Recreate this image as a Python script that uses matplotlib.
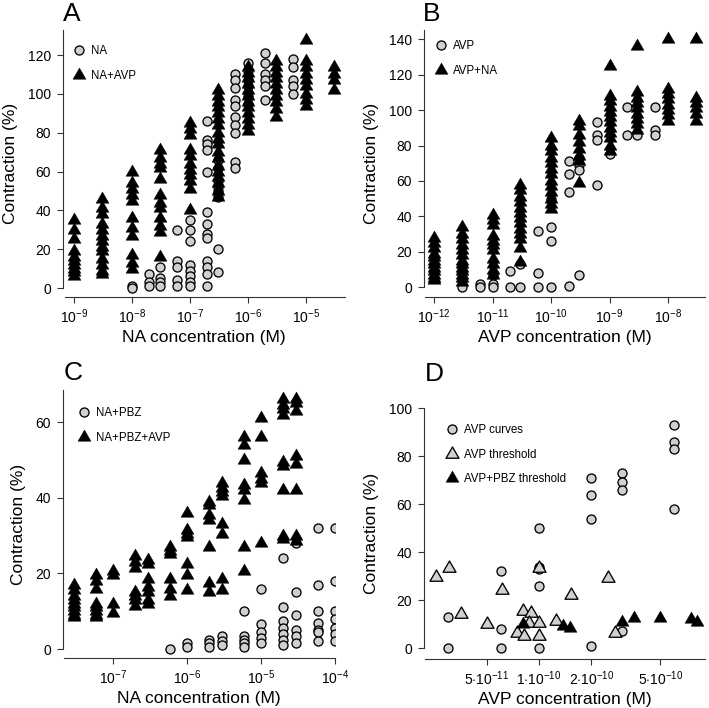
import numpy as np
import matplotlib
matplotlib.use('Agg')
import matplotlib.pyplot as plt
from matplotlib.lines import Line2D
from matplotlib.path import Path

plt.rcParams['font.family'] = ['Liberation Sans', 'DejaVu Sans']
plt.rcParams['mathtext.fontset'] = 'custom'
plt.rcParams['mathtext.rm'] = 'Liberation Sans'
plt.rcParams['mathtext.it'] = 'Liberation Sans:italic'
plt.rcParams['mathtext.bf'] = 'Liberation Sans:bold'
plt.rcParams['mathtext.sf'] = 'Liberation Sans'

# ---------------- data ----------------
# Panel A
A_na_conc = [1e-8, 2e-8, 3e-8, 6e-8, 1e-7, 2e-7, 3e-7, 6e-7, 1e-6, 2e-6, 6e-6]
A_na_vals = [[1, 0], [7, 3, 1], [11, 5, 3, 1], [30, 14, 11, 4, 1],
             [35, 30, 24, 12, 9, 6, 3, 1],
             [86, 76, 74, 71, 60, 39, 33, 28, 26, 14, 11, 7, 1],
             [66, 62, 55, 52, 50, 47, 20, 8],
             [110, 107, 103, 97, 94, 88, 84, 80, 65, 62],
             [116, 112, 107, 104, 99, 95],
             [121, 116, 110, 107, 104, 97],
             [118, 114, 107, 104, 100]]
A_naavp_conc = [1e-9, 3e-9, 1e-8, 3e-8, 1e-7, 3e-7, 1e-6, 3e-6, 1e-5, 3e-5]
A_naavp_vals = [[35, 30, 25, 19, 16, 14, 12, 10, 8, 6],
                [46, 41, 38, 33, 30, 27, 24, 21, 19, 15, 12, 9, 7],
                [60, 54, 51, 48, 45, 36, 31, 27, 17, 13, 10],
                [71, 67, 64, 62, 56, 48, 44, 41, 36, 32, 29, 16],
                [85, 82, 79, 71, 68, 64, 61, 58, 55, 51, 40],
                [102, 99, 96, 93, 90, 87, 84, 80, 77, 74, 70, 67, 63, 60, 57, 54, 50, 47],
                [114, 111, 108, 105, 102, 99, 96, 93, 90, 87, 84, 81],
                [117, 114, 111, 108, 105, 102, 99, 96, 92, 88],
                [128, 117, 114, 110, 107, 104, 100, 97, 94],
                [114, 110, 107, 102]]
A_xticks = [1e-9, 1e-8, 1e-7, 1e-6, 1e-5]
A_xticklabels = [r'$10^{-9}$', r'$10^{-8}$', r'$10^{-7}$', r'$10^{-6}$', r'$10^{-5}$']
A_yticks = [0, 20, 40, 60, 80, 100, 120]

# Panel B
B_avp_conc = [3e-12, 6e-12, 1e-11, 2e-11, 3e-11, 6e-11, 1e-10, 2e-10, 3e-10,
              6e-10, 1e-9, 2e-9, 3e-9, 6e-9]
B_avp_vals = [[0], [2, 0], [7, 2, 0], [9, 0], [13, 0], [32, 8, 0], [50, 34, 26, 0],
              [71, 64, 54, 1], [73, 69, 66, 7], [93, 86, 83, 58], [75],
              [102, 86], [86], [102, 89, 86]]
B_avpna_conc = [1e-12, 3e-12, 1e-11, 3e-11, 1e-10, 3e-10, 1e-9, 3e-9, 1e-8, 3e-8]
B_avpna_vals = [[28, 25, 22, 19, 17, 15, 13, 11, 9, 7, 5, 4],
                [34, 30, 27, 24, 21, 18, 15, 13, 11, 9, 7, 5, 3],
                [41, 38, 35, 29, 26, 24, 21, 16, 13, 10, 7],
                [58, 55, 51, 48, 45, 42, 39, 36, 33, 30, 27, 22, 14],
                [84, 80, 77, 73, 70, 67, 64, 60, 57, 54, 50, 47, 44],
                [94, 91, 86, 82, 78, 74, 71, 59],
                [125, 108, 105, 102, 99, 96, 93, 90, 87, 84, 80, 77],
                [136, 110, 107, 104, 101, 98, 95, 92, 89],
                [140, 112, 109, 106, 103, 100, 97, 94],
                [140, 107, 104, 101, 98, 94]]
B_xticks = [1e-12, 1e-11, 1e-10, 1e-9, 1e-8]
B_xticklabels = [r'$10^{-12}$', r'$10^{-11}$', r'$10^{-10}$', r'$10^{-9}$', r'$10^{-8}$']
B_yticks = [0, 20, 40, 60, 80, 100, 120, 140]

# Panel C
C_napbz_conc = [6e-7, 1e-6, 2e-6, 3e-6, 6e-6, 1e-5, 2e-5, 3e-5, 6e-5, 1e-4]
C_napbz_vals = [[0], [1.5, 0.5], [2.5, 1.5, 0.5], [3.5, 2, 1],
                [10, 3.5, 2.5, 1.5, 0.5], [16, 6.5, 4.5, 3, 1.5],
                [24, 11, 7.5, 5.5, 4, 2.5, 1], [28, 15, 9, 5, 3.5, 1.5],
                [32, 17, 10, 7, 5, 4.5, 2], [32, 18, 10, 8, 5.5, 4, 2]]
C_napbzavp_conc = [3e-8, 6e-8, 1e-7, 2e-7, 3e-7, 6e-7, 1e-6, 2e-6, 3e-6,
                   6e-6, 1e-5, 2e-5, 3e-5]
C_napbzavp_vals = [[17, 15.5, 14, 13, 12, 11, 10, 9, 8.5],
                   [19.5, 18, 16, 12, 11, 10, 9, 8.5],
                   [20.5, 19.5, 12, 9.5],
                   [24.5, 23, 21.5, 15, 14, 13, 11.5],
                   [23.5, 22.5, 18.5, 16.5, 15, 13, 12],
                   [27, 26, 25, 18.5, 16, 14],
                   [36, 31.5, 30.5, 29.5, 22.5, 19.5, 15.5],
                   [39, 38, 35.5, 34, 27, 17.5, 15],
                   [44, 42.5, 41.5, 40.5, 33, 30.5, 18.5, 15.5],
                   [56, 54, 50, 43.5, 42, 39.5, 27, 20.5],
                   [61, 56, 46.5, 45, 44, 28],
                   [66, 64.5, 63.5, 62, 49.5, 48.5, 42, 30, 29],
                   [66, 65, 63, 51, 49, 42, 30, 28.5]]
C_xticks = [1e-7, 1e-6, 1e-5, 1e-4]
C_xticklabels = [r'$10^{-7}$', r'$10^{-6}$', r'$10^{-5}$', r'$10^{-4}$']
C_yticks = [0, 20, 40, 60]

# Panel D
D_curves_conc = [3e-11, 6e-11, 1e-10, 2e-10, 3e-10, 6e-10]
D_curves_vals = [[13, 0], [32, 8, 0], [50, 34, 33, 26, 0], [71, 64, 54, 1],
                 [73, 69, 66, 7], [93, 86, 83, 58]]
D_thr_x = [2.55e-11, 3.03e-11, 3.54e-11, 5.0e-11, 6.1e-11, 7.5e-11, 8.05e-11,
           8.2e-11, 9.0e-11, 8.8e-11, 1e-10, 1e-10, 1e-10, 1.26e-10, 1.52e-10,
           2.5e-10, 2.74e-10]
D_thr_y = [29.6, 33.3, 14.3, 10, 24.3, 6.3, 15.7, 5.1, 14.6, 10.4, 33.3, 10.4,
           5.1, 11.5, 22.2, 29.4, 6.3]
D_pbz_x = [8.05e-11, 1.38e-10, 1.51e-10, 3.0e-10, 3.53e-10, 5.0e-10, 7.5e-10, 8.1e-10]
D_pbz_y = [10, 9.3, 8.3, 11, 12.5, 12.5, 12, 11]
D_xticks = [5e-11, 1e-10, 2e-10, 5e-10]
D_xticklabels = [r'$5{\cdot}10^{-11}$', r'$1{\cdot}10^{-10}$', r'$2{\cdot}10^{-10}$',
                 r'$5{\cdot}10^{-10}$']
D_yticks = [0, 20, 40, 60, 80, 100]

# ---------------- styling ----------------
W, H = 709, 708
GRAY = '#d0d0d0'
TRI = Path([(0, 1.5551), (1.3468, -0.7776), (-1.3468, -0.7776), (0, 1.5551)],
           [Path.MOVETO, Path.LINETO, Path.LINETO, Path.CLOSEPOLY])
CIRC_MS = 6.5
TRI_MS = 10.8
EDGE_LW = 0.95
SPINE_C = '#333333'


def expand(concs, vals):
    xs, ys = [], []
    for c, vs in zip(concs, vals):
        xs += [c] * len(vs)
        ys += list(vs)
    return xs, ys


fig = plt.figure(figsize=(W / 100, H / 100), dpi=100)


def make_ax(l, r, t, b, xlog_lim, ylim, ytop_spine, xspine_lo):
    ax = fig.add_axes([l / W, 1 - b / H, (r - l) / W, (b - t) / H])
    ax.set_xscale('log')
    ax.set_xlim(10 ** xlog_lim[0], 10 ** xlog_lim[1])
    ax.set_ylim(*ylim)
    for s in ['top', 'right']:
        ax.spines[s].set_visible(False)
    ax.spines['left'].set_bounds(0, ytop_spine)
    ax.spines['bottom'].set_bounds(10 ** xspine_lo, 10 ** xlog_lim[1])
    for s in ['left', 'bottom']:
        ax.spines[s].set_color(SPINE_C)
        ax.spines[s].set_linewidth(0.8)
    ax.minorticks_off()
    ax.tick_params(axis='both', which='major', length=4.5, width=0.8,
                   color=SPINE_C, labelsize=10, pad=3)
    ax.tick_params(axis='y', pad=4)
    ax.set_ylabel('Contraction (%)', fontsize=12.5, labelpad=7)
    return ax


def circles(ax, x, y):
    ax.plot(x, y, linestyle='None', marker='o', ms=CIRC_MS, mfc=GRAY, mec='black',
            mew=EDGE_LW, zorder=3)


def tris(ax, x, y, face='black', z=4):
    ax.plot(x, y, linestyle='None', marker=TRI, ms=TRI_MS, mfc=face, mec='black',
            mew=EDGE_LW if face != 'black' else 0.3, zorder=z)


def legend(ax, handles, labels, x, y):
    ax.legend(handles, labels, loc='upper left', bbox_to_anchor=(x / W, 1 - y / H),
              bbox_transform=fig.transFigure, frameon=False, fontsize=8.3,
              handlelength=1.0, handletextpad=0.6, labelspacing=1.1,
              borderpad=0, borderaxespad=0, numpoints=1)


circ_h = Line2D([], [], linestyle='None', marker='o', ms=CIRC_MS, mfc=GRAY,
                mec='black', mew=EDGE_LW)
tri_h = Line2D([], [], linestyle='None', marker=TRI, ms=TRI_MS, mfc='black',
               mec='black', mew=0.3)
gtri_h = Line2D([], [], linestyle='None', marker=TRI, ms=TRI_MS, mfc=GRAY,
                mec='black', mew=EDGE_LW)

# ---- Panel A
axA = make_ax(63, 345, 30, 297, (-9.19, -4.328), (-4.63, 132.9), 132.9, -9.155)
x, y = expand(A_na_conc, A_na_vals)
circles(axA, x, y)
x, y = expand(A_naavp_conc, A_naavp_vals)
tris(axA, x, y)
axA.set_xticks(A_xticks)
axA.set_xticklabels(A_xticklabels)
axA.set_yticks(A_yticks)
axA.set_xlabel('NA concentration (M)', fontsize=12.5, labelpad=3)
legend(axA, [circ_h, tri_h], ['NA', 'NA+AVP'], 73, 45)

# ---- Panel B
axB = make_ax(424, 705, 30, 297, (-12.171, -7.368), (-5.48, 145.2), 145.2, -12.154)
x, y = expand(B_avp_conc, B_avp_vals)
circles(axB, x, y)
x, y = expand(B_avpna_conc, B_avpna_vals)
tris(axB, x, y)
axB.set_xticks(B_xticks)
axB.set_xticklabels(B_xticklabels)
axB.set_yticks(B_yticks)
axB.set_xlabel('AVP concentration (M)', fontsize=12.5, labelpad=3)
legend(axB, [circ_h, tri_h], ['AVP', 'AVP+NA'], 435, 40)

# ---- Panel C
axC = make_ax(63, 335, 390, 658, (-7.672, -3.996), (-2.38, 68.5), 68.5, -7.66)
x, y = expand(C_napbz_conc, C_napbz_vals)
circles(axC, x, y)
x, y = expand(C_napbzavp_conc, C_napbzavp_vals)
tris(axC, x, y)
axC.set_xticks(C_xticks)
axC.set_xticklabels(C_xticklabels)
axC.set_yticks(C_yticks)
axC.set_xlabel('NA concentration (M)', fontsize=12.5, labelpad=3)
legend(axC, [circ_h, tri_h], ['NA+PBZ', 'NA+PBZ+AVP'], 78, 407)

# ---- Panel D
axD = make_ax(424, 705, 408, 659, (-10.663, -9.043), (-4.46, 100), 100, -10.657)
x, y = expand(D_curves_conc, D_curves_vals)
circles(axD, x, y)
tris(axD, D_thr_x, D_thr_y, face=GRAY, z=4)
tris(axD, D_pbz_x, D_pbz_y, z=5)
axD.set_xticks(D_xticks)
axD.set_xticklabels(D_xticklabels)
axD.set_yticks(D_yticks)
axD.set_xlabel('AVP concentration (M)', fontsize=12.5, labelpad=3)
legend(axD, [circ_h, gtri_h, tri_h], ['AVP curves', 'AVP threshold', 'AVP+PBZ threshold'],
       446, 424)

# panel letters
for lab, px, py in [('A', 63, 2), ('B', 423, 2), ('C', 64, 361), ('D', 425, 362)]:
    fig.text(px / W, 1 - py / H, lab, fontsize=19, ha='left', va='top')

fig.savefig('out.png', dpi=100)
